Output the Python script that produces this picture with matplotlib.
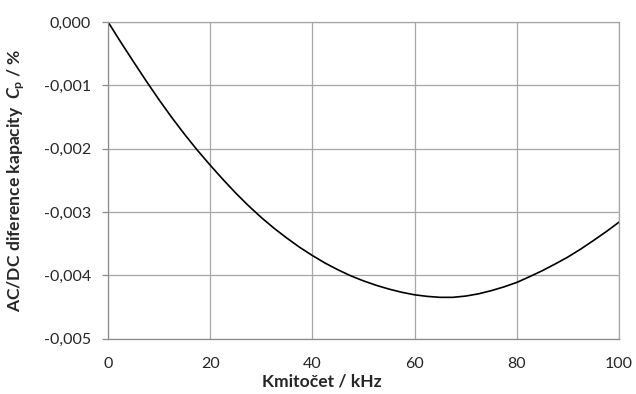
import matplotlib
matplotlib.use("Agg")
import matplotlib.pyplot as plt
from matplotlib.ticker import FuncFormatter

freq_khz = [0, 2.5, 5, 7.5, 10, 12.5, 15, 17.5, 20, 22.5, 25, 27.5, 30, 32.5, 35, 37.5,
            40, 42.5, 45, 47.5, 50, 52.5, 55, 57.5, 60, 62.5, 65, 67.5, 70, 72.5, 75,
            77.5, 80, 82.5, 85, 87.5, 90, 92.5, 95, 97.5, 100]
diff_pct = [0.0, -0.000320, -0.000630, -0.000935, -0.001230, -0.001510, -0.001775,
            -0.002025, -0.002260, -0.002485, -0.002700, -0.002900, -0.003085, -0.003255,
            -0.003410, -0.003555, -0.003685, -0.003805, -0.003910, -0.004005, -0.004085,
            -0.004155, -0.004215, -0.004265, -0.004305, -0.004330, -0.004345, -0.004345,
            -0.004325, -0.004290, -0.004240, -0.004180, -0.004110, -0.004020, -0.003925,
            -0.003820, -0.003710, -0.003585, -0.003450, -0.003310, -0.003160]
x_ticks = [0, 20, 40, 60, 80, 100]
y_ticks = [0.0, -0.001, -0.002, -0.003, -0.004, -0.005]

plt.rcParams['font.family'] = ['Lato', 'DejaVu Sans']
plt.rcParams['mathtext.fontset'] = 'custom'
plt.rcParams['mathtext.it'] = 'Lato:bold:italic'
plt.rcParams['mathtext.rm'] = 'Lato:bold'
plt.rcParams['mathtext.bf'] = 'Lato:bold'

fig = plt.figure(figsize=(6.36, 3.94), dpi=100)
ax = fig.add_axes([0.170, 0.140, 0.803, 0.804])

ax.plot(freq_khz, diff_pct, color='black', lw=1.2)

ax.set_xlim(0, 100)
ax.set_ylim(-0.005, 0.0)
ax.set_xticks(x_ticks)
ax.set_yticks(y_ticks)
ax.xaxis.set_major_formatter(FuncFormatter(lambda v, p: f"{v:.0f}"))
ax.yaxis.set_major_formatter(FuncFormatter(lambda v, p: f"{v:.3f}".replace('.', ',').replace('-0,000', '0,000')))

ax.grid(True, color='#a6a6a6', lw=0.9)
ax.set_axisbelow(True)
for s in ax.spines.values():
    s.set_color('#a6a6a6')
    s.set_linewidth(0.9)
ax.spines['left'].set_color('#8c8c8c')
ax.spines['bottom'].set_color('#8c8c8c')
ax.tick_params(axis='y', direction='out', length=4.3, width=0.9, color='#8c8c8c',
               labelsize=11.5, labelcolor='#262626', pad=8.0)
ax.tick_params(axis='x', length=0, labelsize=11.5, labelcolor='#262626', pad=13)

ax.set_xlabel('Kmitočet / kHz', fontsize=12.6, fontweight='bold', color='#262626')
ax.xaxis.set_label_coords(0.419, -0.108)
ax.set_ylabel(r'AC/DC diference kapacity  $C_\mathrm{p}$ / %', fontsize=12.6,
              fontweight='bold', color='#262626')
ax.yaxis.set_label_coords(-0.158, 0.5)

fig.savefig('out.png', dpi=100)
